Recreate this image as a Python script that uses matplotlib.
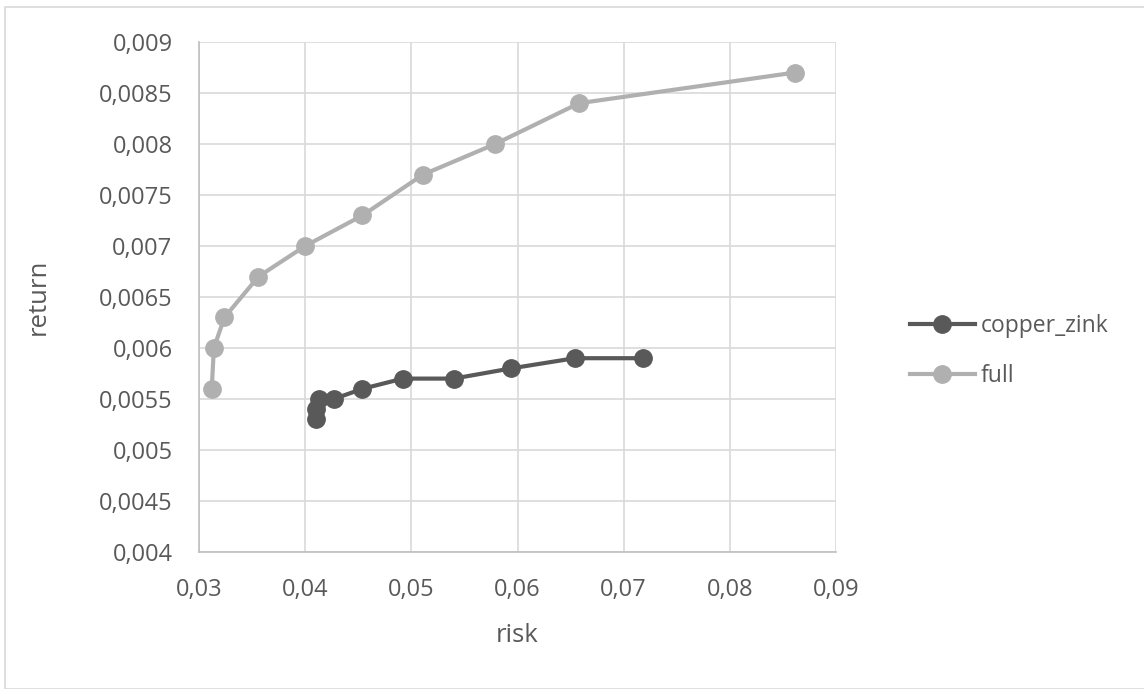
import matplotlib
matplotlib.use("Agg")
import matplotlib.pyplot as plt
from matplotlib.ticker import FuncFormatter, MultipleLocator
from matplotlib.patches import Rectangle

# data
copper_risk = [0.0410, 0.0410, 0.0413, 0.0427, 0.0454, 0.0492, 0.0540, 0.0594, 0.0654, 0.0718]
copper_return = [0.0053, 0.0054, 0.0055, 0.0055, 0.0056, 0.0057, 0.0057, 0.0058, 0.0059, 0.0059]
full_risk = [0.0312, 0.0314, 0.0324, 0.0356, 0.0400, 0.0454, 0.0511, 0.0579, 0.0658, 0.0861]
full_return = [0.0056, 0.0060, 0.0063, 0.0067, 0.0070, 0.0073, 0.0077, 0.0080, 0.0084, 0.0087]

TEXT = "#595959"
plt.rcParams['font.family'] = ['Open Sans', 'DejaVu Sans']

fig = plt.figure(figsize=(11.44, 6.89), dpi=100)
# chart area border
fig.patches.append(Rectangle((5/1144, 0.0), 1.2, 1 - 7/689, transform=fig.transFigure,
                             fill=False, edgecolor="#d9d9d9", linewidth=1.2))
ax = fig.add_axes([199/1144, 1 - 552/689, (836-199)/1144, (552-42)/689])

ax.plot(copper_risk, copper_return, color="#595959", lw=3, marker="o", ms=12.5,
        label="copper_zink", zorder=3)
ax.plot(full_risk, full_return, color="#b0b0b0", lw=3, marker="o", ms=12.5,
        label="full", zorder=3)

ax.set_xlim(0.03, 0.09)
ax.set_ylim(0.004, 0.009)
ax.xaxis.set_major_locator(MultipleLocator(0.01))
ax.yaxis.set_major_locator(MultipleLocator(0.0005))

def comma(v, pos):
    return f"{round(v, 6):g}".replace(".", ",")

ax.xaxis.set_major_formatter(FuncFormatter(comma))
ax.yaxis.set_major_formatter(FuncFormatter(comma))

ax.grid(True, color="#d9d9d9", lw=1.2)
ax.set_axisbelow(True)
for s in ["top", "right"]:
    ax.spines[s].set_visible(False)
for s in ["left", "bottom"]:
    ax.spines[s].set_color("#bfbfbf")
    ax.spines[s].set_linewidth(1.2)
ax.tick_params(axis="y", length=0, labelsize=17, labelcolor=TEXT, pad=19)
ax.tick_params(axis="x", length=0, labelsize=17, labelcolor=TEXT, pad=19)

ax.set_xlabel("risk", fontsize=18.5, color=TEXT)
ax.set_ylabel("return", fontsize=18.5, color=TEXT)
ax.xaxis.set_label_coords(0.5, -0.14)
ax.yaxis.set_label_coords(-0.232, 0.5)

leg = ax.legend(loc="center left", bbox_to_anchor=(889/1144, 1 - 351/689),
                bbox_transform=fig.transFigure, frameon=False,
                fontsize=16.5, labelcolor=TEXT, handlelength=2.85, handletextpad=0.25,
                labelspacing=1.15)

fig.savefig("out.png", dpi=100)
